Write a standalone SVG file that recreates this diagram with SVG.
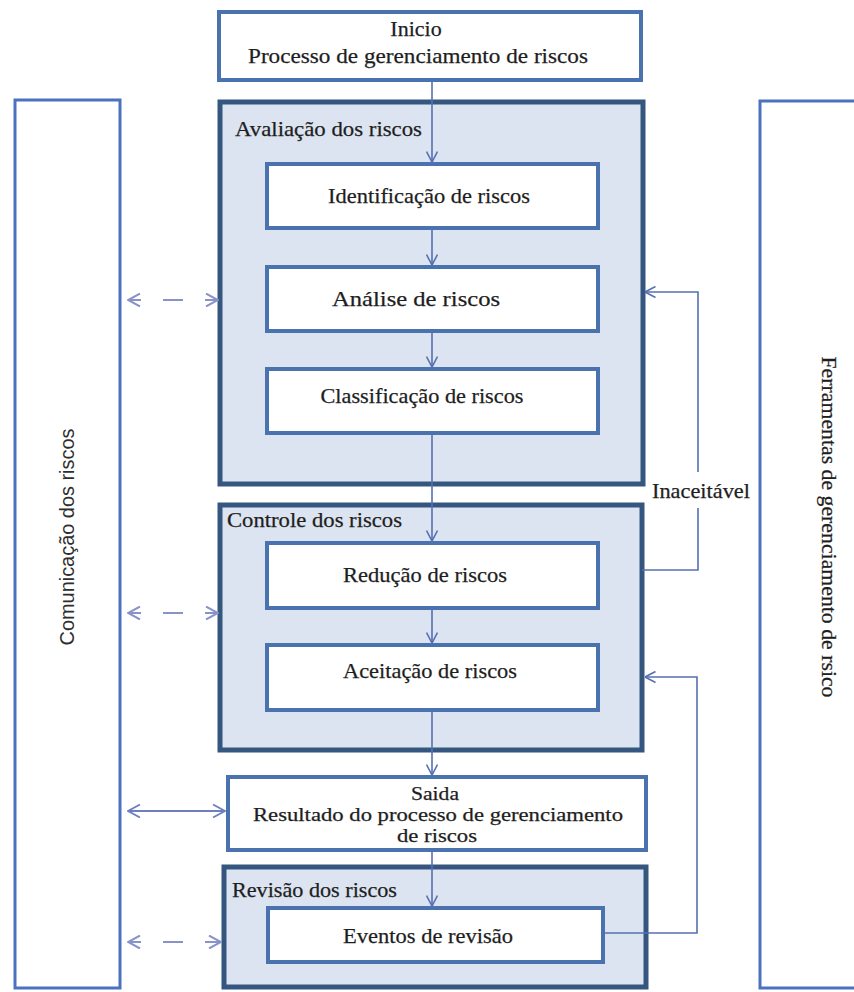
<svg xmlns="http://www.w3.org/2000/svg" width="854" height="992" viewBox="0 0 854 992">
<style>
.panel{fill:#ffffff;stroke:#4b71bf;stroke-width:3}
.grp{fill:#dbe4f0;stroke:#34567f;stroke-width:5}
.box{fill:#ffffff;stroke:#4a72ae;stroke-width:4}
.t{font-family:"Liberation Serif","Times New Roman",serif;font-size:22px;fill:#1e1e1e;stroke:#1e1e1e;stroke-width:0.25}
.sm{font-size:19px}
.c{text-anchor:middle}
.s{font-family:"Liberation Sans",Arial,sans-serif;font-size:20px;fill:#2e2e2e;text-anchor:middle}
.ln{fill:none;stroke:#5570b2;stroke-width:1.6}
.dl{fill:none;stroke:#8893c9;stroke-width:2}
.sl{fill:none;stroke:#6d7fc0;stroke-width:1.8}
</style>
<defs>
<marker id="ah" viewBox="0 0 12 12" refX="11.5" refY="6" markerWidth="12" markerHeight="12" markerUnits="userSpaceOnUse" orient="auto-start-reverse">
<path d="M1,0.5 L11.5,6 L1,11.5" fill="none" stroke="#5570b2" stroke-width="1.6"/>
</marker>
<marker id="ahd" viewBox="0 0 14 14" refX="13" refY="7" markerWidth="14" markerHeight="14" markerUnits="userSpaceOnUse" orient="auto-start-reverse">
<path d="M1,0.5 L13,7 L1,13.5" fill="none" stroke="#8893c9" stroke-width="2"/>
</marker>
<marker id="ahs" viewBox="0 0 14 14" refX="13" refY="7" markerWidth="14" markerHeight="14" markerUnits="userSpaceOnUse" orient="auto-start-reverse">
<path d="M1,0.5 L13,7 L1,13.5" fill="none" stroke="#6d7fc0" stroke-width="1.8"/>
</marker>
</defs>
<rect width="854" height="992" fill="#ffffff"/>

<g id="comunicacao">
<rect class="panel" x="15" y="100" width="105" height="888"/>
<text class="s" transform="translate(74,537) rotate(-90)" textLength="217" lengthAdjust="spacingAndGlyphs">Comunicação dos riscos</text>
</g>

<g id="ferramentas">
<rect class="panel" x="760" y="101" width="120" height="887"/>
<text class="t c" transform="translate(822,527) rotate(90)" textLength="341" lengthAdjust="spacingAndGlyphs">Ferramentas de gerenciamento de rsico</text>
</g>

<g id="inicio">
<rect class="box" x="219" y="12" width="422" height="68"/>
<text class="t c" x="416" y="36">Inicio</text>
<text class="t c" x="418" y="63" textLength="340" lengthAdjust="spacingAndGlyphs">Processo de gerenciamento de riscos</text>
</g>

<g id="avaliacao">
<rect class="grp" x="220" y="102" width="423" height="382"/>
<text class="t" x="235" y="136" textLength="187" lengthAdjust="spacingAndGlyphs">Avaliação dos riscos</text>
</g>

<g id="identificacao">
<rect class="box" x="267" y="164" width="331" height="64"/>
<text class="t c" x="429" y="203" textLength="202" lengthAdjust="spacingAndGlyphs">Identificação de riscos</text>
</g>

<g id="analise">
<rect class="box" x="267" y="267" width="331" height="64"/>
<text class="t c" x="416" y="306" textLength="168" lengthAdjust="spacingAndGlyphs">Análise de riscos</text>
</g>

<g id="classificacao">
<rect class="box" x="267" y="369" width="331" height="64"/>
<text class="t c" x="422" y="403" textLength="203" lengthAdjust="spacingAndGlyphs">Classificação de riscos</text>
</g>

<g id="controle">
<rect class="grp" x="220" y="505" width="422" height="245"/>
<text class="t" x="227" y="527" textLength="175" lengthAdjust="spacingAndGlyphs">Controle dos riscos</text>
</g>

<g id="reducao">
<rect class="box" x="267" y="543" width="331" height="65"/>
<text class="t c" x="425" y="582" textLength="164" lengthAdjust="spacingAndGlyphs">Redução de riscos</text>
</g>

<g id="aceitacao">
<rect class="box" x="267" y="645" width="331" height="65"/>
<text class="t c" x="430" y="678" textLength="174" lengthAdjust="spacingAndGlyphs">Aceitação de riscos</text>
</g>

<g id="saida">
<rect class="box" x="228" y="777" width="418" height="73"/>
<text class="t c sm" x="435" y="800" textLength="48" lengthAdjust="spacingAndGlyphs">Saida</text>
<text class="t c sm" x="438" y="821" textLength="370" lengthAdjust="spacingAndGlyphs">Resultado do processo de gerenciamento</text>
<text class="t c sm" x="437" y="842" textLength="80" lengthAdjust="spacingAndGlyphs">de riscos</text>
</g>

<g id="revisao">
<rect class="grp" x="224" y="867" width="422" height="120"/>
<text class="t" x="232" y="897" textLength="165" lengthAdjust="spacingAndGlyphs">Revisão dos riscos</text>
</g>

<g id="eventos">
<rect class="box" x="268" y="908" width="335" height="54"/>
<text class="t c" x="428" y="943" textLength="170" lengthAdjust="spacingAndGlyphs">Eventos de revisão</text>
</g>

<g id="connectors">
<line class="ln" x1="432" y1="80" x2="432" y2="162" marker-end="url(#ah)"/>
<line class="ln" x1="432" y1="228" x2="432" y2="265" marker-end="url(#ah)"/>
<line class="ln" x1="432" y1="331" x2="432" y2="367" marker-end="url(#ah)"/>
<line class="ln" x1="432" y1="433" x2="432" y2="541" marker-end="url(#ah)"/>
<line class="ln" x1="432" y1="608" x2="432" y2="643" marker-end="url(#ah)"/>
<line class="ln" x1="432" y1="710" x2="432" y2="775" marker-end="url(#ah)"/>
<line class="ln" x1="432" y1="850" x2="432" y2="906" marker-end="url(#ah)"/>
<polyline class="ln" points="642,570 698,570 698,508"/>
<polyline class="ln" points="698,472 698,292 645,292" marker-end="url(#ah)"/>
<text class="t" x="652" y="498" textLength="98" lengthAdjust="spacingAndGlyphs">Inaceitável</text>
<polyline class="ln" points="603,933 697,933 697,677 645,677" marker-end="url(#ah)"/>
<line class="dl" x1="128" y1="300" x2="218" y2="300" stroke-dasharray="13 22 20 22 13" marker-start="url(#ahd)" marker-end="url(#ahd)"/>
<line class="dl" x1="128" y1="613" x2="218" y2="613" stroke-dasharray="13 22 20 22 13" marker-start="url(#ahd)" marker-end="url(#ahd)"/>
<line class="sl" x1="128" y1="811" x2="225" y2="811" marker-start="url(#ahs)" marker-end="url(#ahs)"/>
<line class="dl" x1="128" y1="942" x2="221" y2="942" stroke-dasharray="13 22 20 22 16" marker-start="url(#ahd)" marker-end="url(#ahd)"/>
</g>
</svg>
